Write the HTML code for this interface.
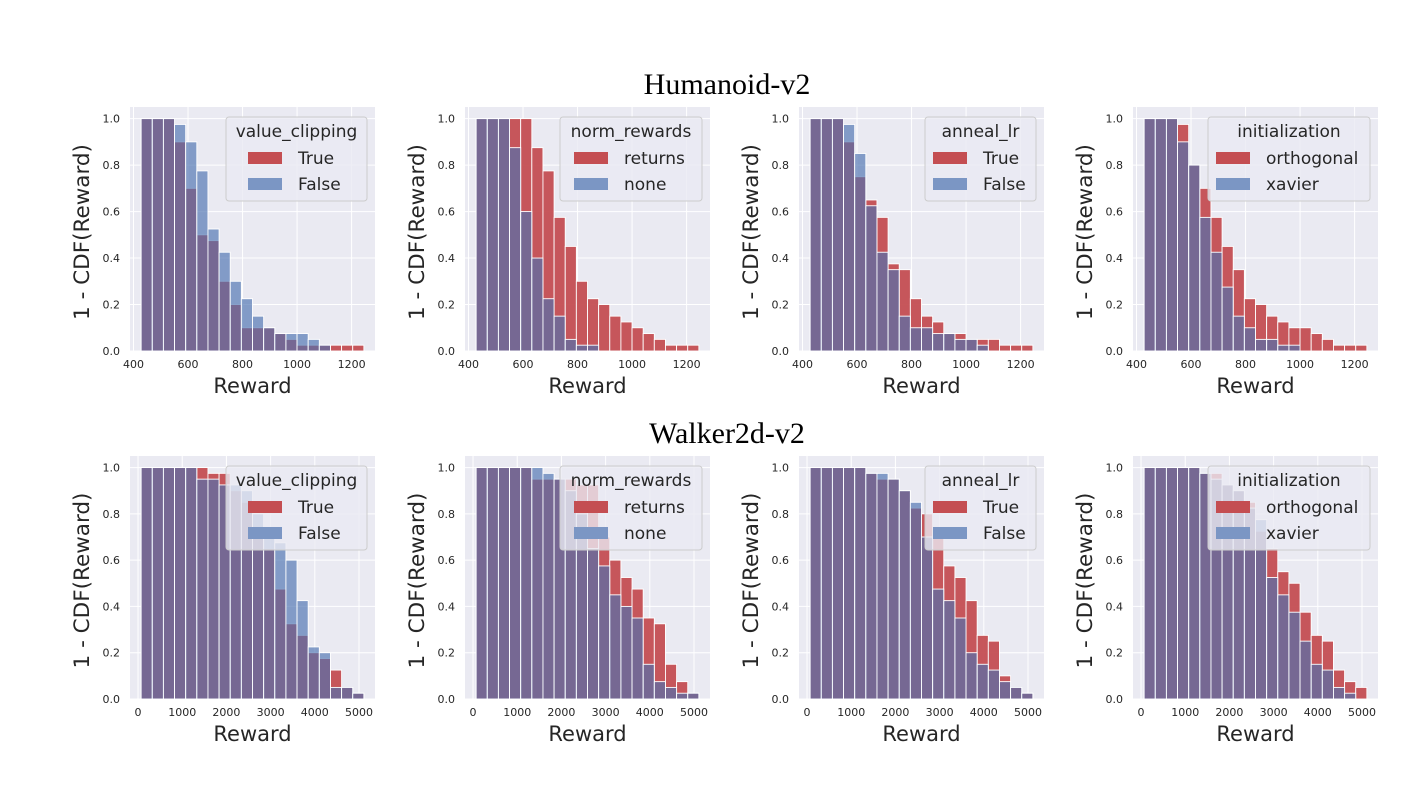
<!DOCTYPE html>
<html><head><meta charset="utf-8">
<style>
html,body{margin:0;padding:0;background:#fff;}
svg{display:block;font-family:"DejaVu Sans","Liberation Sans",sans-serif;}
</style></head>
<body>
<svg id="fig" width="1418" height="788" viewBox="0 0 1418 788" xmlns="http://www.w3.org/2000/svg">
<rect width="1418" height="788" fill="#fff"/>
<text x="727" y="94" font-family="Liberation Serif, serif" font-size="30" text-anchor="middle" fill="#000">Humanoid-v2</text>
<text x="727" y="443" font-family="Liberation Serif, serif" font-size="30" text-anchor="middle" fill="#000">Walker2d-v2</text>
</svg>
<script>
const humBinStart = 428, humBinWidth = 40.85;
const walkBinStart = 70, walkBinWidth = 252;
const humXTicks = [400, 600, 800, 1000, 1200];
const walkXTicks = [0, 1000, 2000, 3000, 4000, 5000];
const yTicks = [0.0, 0.2, 0.4, 0.6, 0.8, 1.0];
const yTickLabels = ["0.0","0.2","0.4","0.6","0.8","1.0"];

const hum_vc_true  = [1,1,1,.9,.7,.5,.475,.3,.2,.1,.1,.1,.075,.05,.025,.025,.025,.025,.025,.025];
const hum_vc_false = [1,1,1,.975,.9,.775,.525,.425,.3,.225,.15,.1,.075,.075,.075,.05,.025,0,0,0];
const hum_nr_returns = [1,1,1,1,1,.875,.775,.575,.45,.3,.225,.2,.15,.125,.1,.075,.05,.025,.025,.025];
const hum_nr_none    = [1,1,1,.875,.6,.4,.225,.15,.05,.025,.025,0,0,0,0,0,0,0,0,0];
const hum_al_true  = [1,1,1,.9,.75,.65,.575,.375,.35,.225,.15,.125,.075,.075,.05,.05,.05,.025,.025,.025];
const hum_al_false = [1,1,1,.975,.85,.625,.425,.35,.15,.1,.1,.075,.075,.05,.05,.025,0,0,0,0];
const hum_in_orth  = [1,1,1,.975,.8,.7,.575,.45,.35,.225,.2,.15,.125,.1,.1,.075,.05,.025,.025,.025];
const hum_in_xav   = [1,1,1,.9,.8,.575,.425,.275,.15,.1,.05,.05,.025,.025,0,0,0,0,0,0];

const walk_vc_true  = [1,1,1,1,1,1,.975,.975,.9,.85,.7,.65,.475,.325,.275,.2,.175,.125,.05,.025];
const walk_vc_false = [1,1,1,1,1,.95,.95,.925,.925,.9,.8,.7,.675,.6,.425,.225,.2,.05,.05,.025];
const walk_nr_returns = [1,1,1,1,1,.95,.95,.95,.95,.925,.925,.7,.6,.525,.475,.35,.325,.15,.075,.025];
const walk_nr_none    = [1,1,1,1,1,1,.975,.95,.9,.8,.65,.575,.45,.4,.35,.15,.075,.05,.025,.025];
const walk_al_true  = [1,1,1,1,1,.975,.95,.95,.9,.825,.8,.7,.575,.525,.425,.275,.25,.1,.05,.025];
const walk_al_false = [1,1,1,1,1,.975,.975,.95,.9,.85,.7,.475,.425,.35,.2,.15,.125,.075,.05,.025];
const walk_in_orth  = [1,1,1,1,1,.975,.975,.925,.9,.85,.725,.65,.55,.5,.375,.275,.25,.125,.075,.05];
const walk_in_xav   = [1,1,1,1,1,.975,.95,.925,.9,.825,.775,.525,.45,.375,.25,.15,.125,.05,.025,0];

const NS = "http://www.w3.org/2000/svg";
const svg = document.getElementById('fig');
function mk(tag, attrs, parent){
  const e = document.createElementNS(NS, tag);
  for (const k in attrs) e.setAttribute(k, attrs[k]);
  (parent||svg).appendChild(e);
  return e;
}

const panels = [
  {row:0,col:0,title:"value_clipping",labels:["True","False"],a:hum_vc_true,b:hum_vc_false,h:true,lw:141,po:22},
  {row:0,col:1,title:"norm_rewards",labels:["returns","none"],a:hum_nr_returns,b:hum_nr_none,h:true,lw:142,po:14},
  {row:0,col:2,title:"anneal_lr",labels:["True","False"],a:hum_al_true,b:hum_al_false,h:true,lw:111,po:8},
  {row:0,col:3,title:"initialization",labels:["orthogonal","xavier"],a:hum_in_orth,b:hum_in_xav,h:true,lw:162,po:8},
  {row:1,col:0,title:"value_clipping",labels:["True","False"],a:walk_vc_true,b:walk_vc_false,h:false,lw:141,po:22},
  {row:1,col:1,title:"norm_rewards",labels:["returns","none"],a:walk_nr_returns,b:walk_nr_none,h:false,lw:142,po:14},
  {row:1,col:2,title:"anneal_lr",labels:["True","False"],a:walk_al_true,b:walk_al_false,h:false,lw:111,po:8},
  {row:1,col:3,title:"initialization",labels:["orthogonal","xavier"],a:walk_in_orth,b:walk_in_xav,h:false,lw:162,po:8},
];
const lefts = [130,465,799,1133];
const tops = [107,456], bottoms = [351,699];
const W = 245;

panels.forEach((p, idx) => {
  const L = lefts[p.col], T = tops[p.row], B = bottoms[p.row];
  const bs = p.h ? humBinStart : walkBinStart, bw = p.h ? humBinWidth : walkBinWidth;
  const n = p.a.length;
  const dMin = bs, dMax = bs + n*bw, m = 0.05*(dMax-dMin);
  const x0 = dMin - m, x1 = dMax + m;
  const xs = v => L + (v - x0) / (x1 - x0) * W;
  const ys = v => B - v / 1.05 * (B - T);
  const g = mk('g', {});
  
  
  const bg = mk('rect', {x:L, y:T, width:W, height:B-T, fill:'#eaeaf2'}, g);
  
  
  const ticks = p.h ? humXTicks : walkXTicks;
  ticks.forEach(t => {
    const x = xs(t);
    const gl = mk('line', {x1:x, x2:x, y1:T, y2:B, stroke:'#fff', 'stroke-width':1}, g);
    
    
    const tl = mk('text', {x:x, y:B+17, 'font-size':11, fill:'#262626', 'text-anchor':'middle'}, g);
    tl.textContent = t;
    
    
  });
  yTicks.forEach((t, i) => {
    const y = ys(t);
    const gl = mk('line', {x1:L, x2:L+W, y1:y, y2:y, stroke:'#fff', 'stroke-width':1}, g);
    
    
    const tl = mk('text', {x:L-10, y:y+4, 'font-size':11, fill:'#262626', 'text-anchor':'end'}, g);
    tl.textContent = yTickLabels[i];
    
    
  });
  [[p.a, 'rgba(196,78,82,0.95)', 'bar-a'], [p.b, 'rgba(76,114,176,0.66)', 'bar-b']].forEach(([arr, col, nm]) => {
    arr.forEach((v, i) => {
      if (v <= 0) return;
      const xa = xs(bs + i*bw), xb = xs(bs + (i+1)*bw);
      const r = mk('rect', {x:xa, y:ys(v), width:xb-xa, height:ys(0)-ys(v), fill:col, stroke:'#fff', 'stroke-width':0.9}, g);
      
      
    });
  });
  const xt = mk('text', {x:L+W/2, y:B+42, 'font-size':21, fill:'#262626', 'text-anchor':'middle'}, g);
  xt.textContent = 'Reward';
  
  
  const cy = (T+B)/2 + 3, cx = L-48;
  const yt = mk('text', {x:cx, y:cy, 'font-size':21.5, fill:'#262626', 'text-anchor':'middle', transform:'rotate(-90 '+cx+' '+cy+')', dy:'7'}, g);
  yt.textContent = '1 - CDF(Reward)';
  
  
  const lx = L + W - 8 - p.lw, ly = T + 10;
  const lg = mk('g', {}, g);
  
  
  mk('rect', {x:lx, y:ly, width:p.lw, height:84, rx:3, fill:'rgba(234,234,242,0.8)', stroke:'#cccccc', 'stroke-width':1}, lg);
  const lt = mk('text', {x:lx+p.lw/2, y:ly+20, 'font-size':17, fill:'#262626', 'text-anchor':'middle'}, lg);
  lt.textContent = p.title;
  
  
  [['rgba(196,78,82,1)', p.labels[0], 41], ['rgba(123,150,196,1)', p.labels[1], 67]].forEach(([c, lab, dy]) => {
    const pr = mk('rect', {x:lx+p.po, y:ly+dy-6, width:34, height:12, fill:c}, lg);
    
    
    const tx = mk('text', {x:lx+p.po+50, y:ly+dy+6, 'font-size':17, fill:'#262626'}, lg);
    tx.textContent = lab;
    
    
  });
});
</script>
</body></html>
